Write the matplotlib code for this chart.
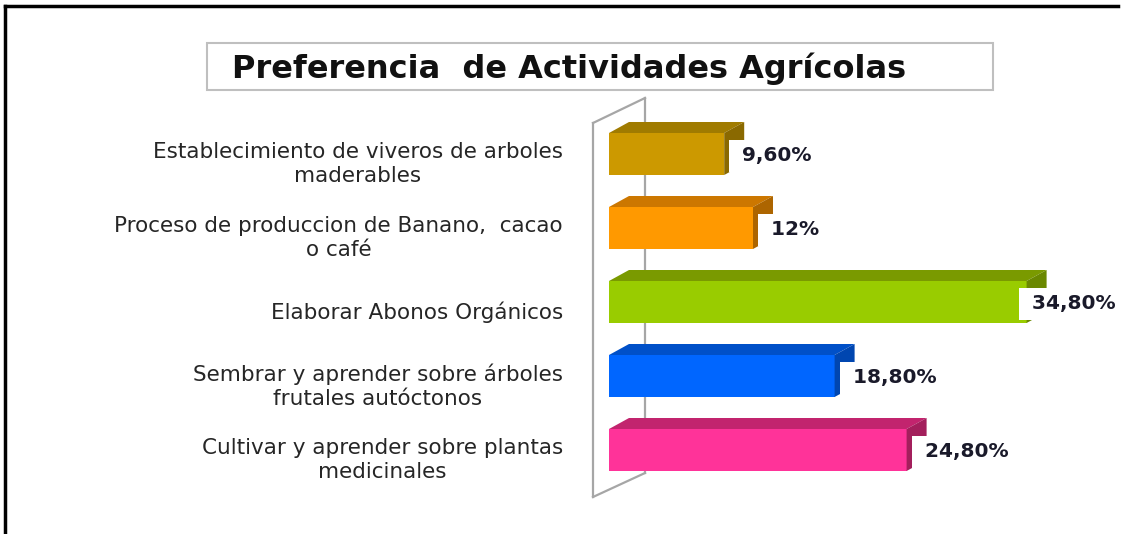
import matplotlib.pyplot as plt
from matplotlib.patches import Polygon, Rectangle

# data (top to bottom as in the chart)
categories = [
    "Establecimiento de viveros de arboles\nmaderables",
    "Proceso de produccion de Banano,  cacao\no café",
    "Elaborar Abonos Orgánicos",
    "Sembrar y aprender sobre árboles\nfrutales autóctonos",
    "Cultivar y aprender sobre plantas\nmedicinales",
]
values = [9.6, 12.0, 34.8, 18.8, 24.8]
value_labels = ["9,60%", "12%", "34,80%", "18,80%", "24,80%"]

front_colors = ["#CC9900", "#FF9900", "#99CC00", "#0066FF", "#FF3399"]
top_colors = ["#A07B00", "#CC7700", "#7A9A00", "#0050C8", "#C2246E"]
side_colors = ["#8A6900", "#AD6500", "#6A8800", "#0046B0", "#A31F5C"]

W, H = 1128, 534
fig = plt.figure(figsize=(W / 100, H / 100), dpi=100)

# axes: x=0 at pixel 609, 12 px per percent; rows 74 px apart
PX = 12.0
ROW = 74.0
ax_left, ax_right = 609, 609 + 40 * PX
ax_top, ax_bot = 100, 500
ax = fig.add_axes([ax_left / W, 1 - ax_bot / H, (ax_right - ax_left) / W, (ax_bot - ax_top) / H])
ax.set_xlim(0, 40)
ax.set_ylim((450 - ax_bot) / ROW, (450 - ax_top) / ROW)
ax.axis("off")

n = len(values)
ypos = [n - 1 - i for i in range(n)]
h = 42 / ROW
dx = 20 / PX
dy = 11 / ROW

# back wall of the 3d plot
wf, wb = -16 / PX, 36 / PX
wall = dict(color="#A6A6A6", lw=1.6, clip_on=False, zorder=1)
ax.plot([wf, wf], [(450 - 497) / ROW, (450 - 123) / ROW], **wall)
ax.plot([wb, wb], [(450 - 473) / ROW, (450 - 98) / ROW], **wall)
ax.plot([wf, wb], [(450 - 123) / ROW, (450 - 98) / ROW], **wall)
ax.plot([wf, wb], [(450 - 497) / ROW, (450 - 473) / ROW], **wall)

ax.barh(ypos, values, height=h, color=front_colors, zorder=3)
for y, v, ct, cs in zip(ypos, values, top_colors, side_colors):
    t = y + h / 2
    b = y - h / 2
    ax.add_patch(Polygon([(0, t), (v, t), (v + dx, t + dy), (dx, t + dy)], closed=True,
                         facecolor=ct, edgecolor="none", zorder=3, clip_on=False))
    ax.add_patch(Polygon([(v, b), (v, t), (v + dx, t + dy), (v + dx, b + dy)], closed=True,
                         facecolor=cs, edgecolor="none", zorder=3, clip_on=False))

# value labels, pulled back inside the frame if they run off the right side
fig.canvas.draw()
renderer = fig.canvas.get_renderer()
for y, v, lab in zip(ypos, values, value_labels):
    txt = ax.text(v + 11 / PX, y - 2 / ROW, " " + lab, ha="left", va="center", fontsize=14.5,
                  fontweight="bold", color="#1A1A2A", zorder=5, clip_on=False,
                  bbox=dict(boxstyle="square,pad=0.3", facecolor="white", edgecolor="none"))
    ext = txt.get_window_extent(renderer)
    over = ext.x1 - (W - 4)
    if over > 0:
        txt.set_x(v + 11 / PX - over / PX - 8 / PX)

# category labels
for y, cat in zip(ypos, categories):
    ax.text((563 - ax_left) / PX, y - 10 / ROW, cat, ha="right", va="center", multialignment="center",
            fontsize=15.5, color="#262626", linespacing=1.25, clip_on=False)

# title box
fig.patches.append(Rectangle((207 / W, 1 - 90 / H), (993 - 207) / W, 47 / H, transform=fig.transFigure,
                             facecolor="white", edgecolor="#BFBFBF", lw=1.5))
fig.text(232 / W, 1 - 69 / H, "Preferencia  de Actividades Agrícolas", ha="left", va="center",
         fontsize=23, fontweight="bold", color="#111111")

# outer frame (top and left edges)
fig.add_artist(plt.Line2D([5 / W, 5 / W], [0, 1 - 6 / H], color="black", lw=2.5, transform=fig.transFigure))
fig.add_artist(plt.Line2D([5 / W, 1118 / W], [1 - 6 / H, 1 - 6 / H], color="black", lw=2.5, transform=fig.transFigure))

fig.savefig("out.png", dpi=100)
